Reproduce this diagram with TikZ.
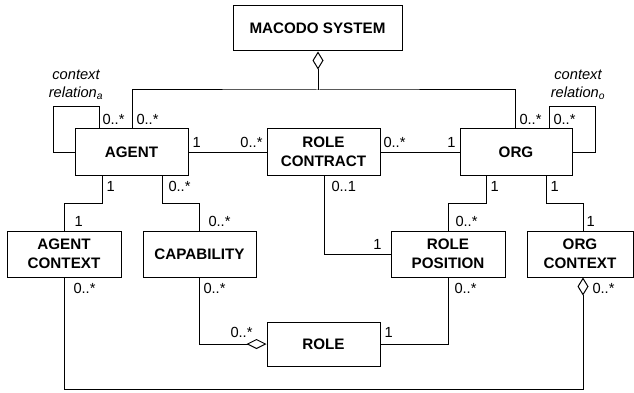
\documentclass[tikz,border=0pt]{standalone}
\usepackage{fontspec}
\setmainfont{Liberation Sans}
\usetikzlibrary{arrows.meta}
\begin{document}
\begin{tikzpicture}[x=0.75pt,y=-0.75pt, line width=0.75pt,
  cls/.style={draw, fill=white, inner sep=0pt, align=center,
    font=\fontsize{11.4}{14.2}\selectfont\bfseries},
  mult/.style={inner sep=0pt, font=\fontsize{11}{13.5}\selectfont},
  ctx/.style={inner sep=0pt, align=center, font=\fontsize{11}{13.5}\selectfont\itshape},
  aggrv/.style={-{Diamond[open,length=13.5pt,width=8.25pt]}},
  aggrh/.style={-{Diamond[open,length=15pt,width=7.5pt]}},
]
\useasboundingbox (0,0) rectangle (634,392);

% classes
\node[cls, minimum width=126.75pt, minimum height=33.75pt] (sys) at (317.5,28.5) {MACODO SYSTEM};
\node[cls, minimum width=84.75pt, minimum height=34.5pt] (agent) at (131.5,152) {AGENT};
\node[cls, minimum width=84.75pt, minimum height=34.5pt] (rc) at (323.5,152) {ROLE\\CONTRACT};
\node[cls, minimum width=84pt, minimum height=34.5pt] (org) at (516,152) {ORG};
\node[cls, minimum width=85.5pt, minimum height=34.5pt] (actx) at (64,254) {AGENT\\CONTEXT};
\node[cls, minimum width=84.75pt, minimum height=34.5pt] (cap) at (199.5,254) {CAPABILITY};
\node[cls, minimum width=85.5pt, minimum height=34.5pt] (rpos) at (448,254) {ROLE\\POSITION};
\node[cls, minimum width=79.5pt, minimum height=34.5pt] (octx) at (580,254) {ORG\\CONTEXT};
\node[cls, minimum width=84.75pt, minimum height=33pt] (role) at (323.5,344) {ROLE};

% helper coordinates
\coordinate (j) at (318,90);
\coordinate (xag) at (132,0);
\coordinate (xor) at (515,0);
\coordinate (la) at (53,107);
\coordinate (xla) at (99,0);
\coordinate (lo) at (595,107);
\coordinate (xlo) at (549,0);
\coordinate (b1) at (102,203);
\coordinate (b2) at (162,203);
\coordinate (b3) at (324,254);
\coordinate (b4) at (486,203);
\coordinate (b5) at (546,203);
\coordinate (xoc) at (583,0);
\coordinate (bot) at (64,389);

% connectors
\draw[aggrv] (j) -- (sys.south -| j);
\draw (agent.north -| xag) |- (j) -| (org.north -| xor);
\draw (agent.north -| xla) |- (la) |- (agent.west);
\draw (org.north -| xlo) |- (lo) |- (org.east);
\draw (agent) -- (rc);
\draw (rc) -- (org);
\draw (agent.south -| b1) -- (b1) -| (actx.north);
\draw (agent.south -| b2) -- (b2) -| (cap.north);
\draw (rc.south -| b3) |- (rpos.west);
\draw (org.south -| b4) -- (b4) -| (rpos.north);
\draw (org.south -| b5) -- (b5) -| (octx.north -| xoc);
\draw[aggrh] (cap.south) |- (role.west);
\draw (rpos.south) |- (role.east);
\draw[aggrv] (actx.south) |- (bot -| xoc) -- (octx.south -| xoc);

% context relation labels
\node[ctx] (cra) at (76,85) {context\\relation\textsubscript{a}};
\node[ctx] (cro) at (578,85) {context\\relation\textsubscript{o}};

% multiplicities
\node[mult, anchor=west] (m1) at (102,119) {0..*};
\node[mult, anchor=west] (m2) at (136,119) {0..*};
\node[mult, anchor=west] (m3) at (519,119) {0..*};
\node[mult, anchor=west] (m4) at (553,119) {0..*};
\node[mult, anchor=west] (m5) at (192,142) {1};
\node[mult, anchor=east] (m6) at (263,142) {0..*};
\node[mult, anchor=west] (m7) at (383,142) {0..*};
\node[mult, anchor=east] (m8) at (456,142) {1};
\node[mult, anchor=west] (m9) at (106,186) {1};
\node[mult, anchor=west] (m10) at (168,186) {0..*};
\node[mult, anchor=west] (m11) at (331,186) {0..1};
\node[mult, anchor=west] (m12) at (490,186) {1};
\node[mult, anchor=west] (m13) at (550,186) {1};
\node[mult, anchor=west] (m14) at (74,221) {1};
\node[mult, anchor=west] (m15) at (208,221) {0..*};
\node[mult, anchor=west] (m16) at (455,221) {0..*};
\node[mult, anchor=west] (m17) at (586,221) {1};
\node[mult, anchor=east] (m18) at (382,244) {1};
\node[mult, anchor=west] (m19) at (73,288) {0..*};
\node[mult, anchor=west] (m20) at (203,288) {0..*};
\node[mult, anchor=west] (m21) at (454,288) {0..*};
\node[mult, anchor=west] (m22) at (592,288) {0..*};
\node[mult, anchor=west] (m23) at (230,332) {0..*};
\node[mult, anchor=west] (m24) at (384,332) {1};
\end{tikzpicture}
\end{document}
